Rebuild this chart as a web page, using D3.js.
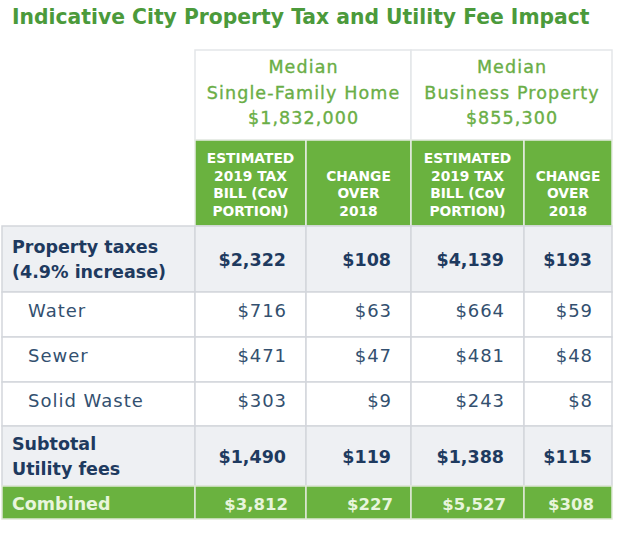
<!DOCTYPE html>
<html>
<head>
<meta charset="utf-8">
<script src="https://cdn.jsdelivr.net/npm/d3@7"></script>
<style>
  html, body { margin: 0; padding: 0; background: #ffffff; }
  svg { display: block; font-family: "DejaVu Sans", "Noto Sans", sans-serif; }
</style>
</head>
<body>
<svg id="chart" width="620" height="540"></svg>
<script>
// ---- data ----
const title = "Indicative City Property Tax and Utility Fee Impact";
const groupTitles = [
  ["Median", "Single-Family Home", "$1,832,000"],
  ["Median", "Business Property", "$855,300"]
];
const columnHeaders = [
  ["ESTIMATED", "2019 TAX", "BILL (CoV", "PORTION)"],
  ["CHANGE", "OVER", "2018"],
  ["ESTIMATED", "2019 TAX", "BILL (CoV", "PORTION)"],
  ["CHANGE", "OVER", "2018"]
];
const rowLabels = [
  ["Property taxes", "(4.9% increase)"],
  ["Water"],
  ["Sewer"],
  ["Solid Waste"],
  ["Subtotal", "Utility fees"],
  ["Combined"]
];
const rowKinds = ["bold", "plain", "plain", "plain", "bold", "total"];
const homeBill   = [2322, 716, 471, 303, 1490, 3812];
const homeChange = [108, 63, 47, 9, 119, 227];
const bizBill    = [4139, 664, 481, 243, 1388, 5527];
const bizChange  = [193, 59, 48, 8, 115, 308];

// ---- layout ----
const svg = d3.select("#chart");
const fmt = d3.format("$,");
const green = "#6ab23f";
const navy = "#1e3a5f";
const navyLight = "#33506f";
const totalText = "#e8f5dc";
const grayBg = "#eef0f3";
const border = "#d3d6db";

const colIds = ["label", "c0", "c1", "c2", "c3"];
const colEdges = [2, 195, 306, 411, 524, 612];
const xLeft = d3.scaleOrdinal().domain(colIds).range(colEdges.slice(0, 5));
const xRight = d3.scaleOrdinal().domain(colIds).range(colEdges.slice(1));

const rowEdges = [226, 292, 337, 382, 426, 486, 519];
const rowIdx = d3.range(rowLabels.length);
const yTop = d3.scaleOrdinal().domain(rowIdx).range(rowEdges.slice(0, -1));
const yBot = d3.scaleOrdinal().domain(rowIdx).range(rowEdges.slice(1));
const yMid = r => (yTop(r) + yBot(r)) / 2;

// title
const t = svg.append("text")
  .attr("x", 12).attr("y", 24)
  .attr("fill", "#4b9a3b")
  .attr("font-weight", 700)
  .attr("font-size", 19)
  .text(title);
const tw = t.node().getComputedTextLength();
t.attr("font-size", 19 * 578 / tw);

// group header (white box)
const gTop = 50, gBot = 140;
groupTitles.forEach((lines, i) => {
  const x0 = xLeft(i === 0 ? "c0" : "c2"), x1 = xRight(i === 0 ? "c1" : "c3");
  svg.append("rect").attr("x", x0).attr("y", gTop).attr("width", x1 - x0).attr("height", gBot - gTop)
    .attr("fill", "#fff").attr("stroke", "#e4e6e9").attr("stroke-width", 1.5);
  svg.append("text")
    .attr("text-anchor", "middle")
    .attr("fill", "#6aae46")
    .attr("stroke", "#6aae46")
    .attr("stroke-width", 0.35)
    .attr("font-size", 17.5)
    .attr("letter-spacing", 1.1)
    .selectAll("tspan").data(lines).join("tspan")
    .attr("x", (x0 + x1) / 2 + 0.55)
    .attr("y", (d, j) => 73 + j * 25.6)
    .text(d => d);
});

// column header (green)
const hTop = 140, hBot = 226;
const hcols = ["c0", "c1", "c2", "c3"];
svg.selectAll("rect.hdr").data(hcols).join("rect")
  .attr("class", "hdr")
  .attr("x", d => xLeft(d)).attr("y", hTop)
  .attr("width", d => xRight(d) - xLeft(d)).attr("height", hBot - hTop)
  .attr("fill", green).attr("stroke", "#e6ebe3").attr("stroke-width", 1.5);
hcols.forEach((c, i) => {
  const lines = columnHeaders[i];
  const lh = 17.6;
  const start = 4 - lines.length; // bottom-aligned line grid
  svg.append("text")
    .attr("text-anchor", "middle")
    .attr("fill", "#ffffff")
    .attr("font-size", 13.8)
    .attr("font-weight", 700)
    .selectAll("tspan").data(lines).join("tspan")
    .attr("x", (xLeft(c) + xRight(c)) / 2)
    .attr("y", (d, j) => 163 + (j + start) * lh)
    .text(d => d);
});

// body rows
const values = [homeBill, homeChange, bizBill, bizChange];
rowIdx.forEach(r => {
  const kind = rowKinds[r];
  const fill = kind === "total" ? green : (kind === "bold" ? grayBg : "#ffffff");
  colIds.forEach(c => {
    svg.append("rect")
      .attr("x", xLeft(c)).attr("y", yTop(r))
      .attr("width", xRight(c) - xLeft(c)).attr("height", yBot(r) - yTop(r))
      .attr("fill", fill)
      .attr("stroke", kind === "total" ? "#dfe8d8" : border)
      .attr("stroke-width", 1.5);
  });
});

// baseline offset per row kind
const baseOff = { bold: 7, plain: 2.5, total: 7 };

// labels
rowIdx.forEach(r => {
  const kind = rowKinds[r];
  const lines = rowLabels[r];
  const lh = 25;
  const txt = svg.append("text")
    .attr("fill", kind === "total" ? totalText : (kind === "bold" ? navy : navyLight));
  if (kind === "bold") {
    txt.attr("font-size", 17.5).attr("font-weight", 700);
  } else if (kind === "total") {
    txt.attr("font-size", 17.5).attr("font-weight", 700);
  } else {
    txt.attr("font-size", 18).attr("letter-spacing", 1);
  }
  txt.selectAll("tspan").data(lines).join("tspan")
    .attr("x", kind === "plain" ? 28 : 12)
    .attr("y", (d, j) => yMid(r) + (j - (lines.length - 1) / 2) * lh + (lines.length > 1 ? 6.5 : baseOff[kind]))
    .text(d => d);
});

// values
hcols.forEach((c, i) => {
  svg.selectAll(null).data(values[i]).join("text")
    .attr("x", (d, r) => xRight(c) - (rowKinds[r] === "total" ? 18 : 20) + (rowKinds[r] === "plain" ? 0.9 : 0))
    .attr("y", (d, r) => yMid(r) + baseOff[rowKinds[r]])
    .attr("text-anchor", "end")
    .attr("fill", (d, r) => rowKinds[r] === "total" ? totalText : (rowKinds[r] === "bold" ? navy : navyLight))
    .attr("font-size", (d, r) => rowKinds[r] === "plain" ? 18 : (rowKinds[r] === "total" ? 16.5 : 17.5))
    .attr("font-weight", (d, r) => rowKinds[r] === "plain" ? 400 : 700)
    .attr("letter-spacing", (d, r) => rowKinds[r] === "plain" ? 0.9 : 0)
    .text(d => fmt(d));
});
</script>
</body>
</html>
